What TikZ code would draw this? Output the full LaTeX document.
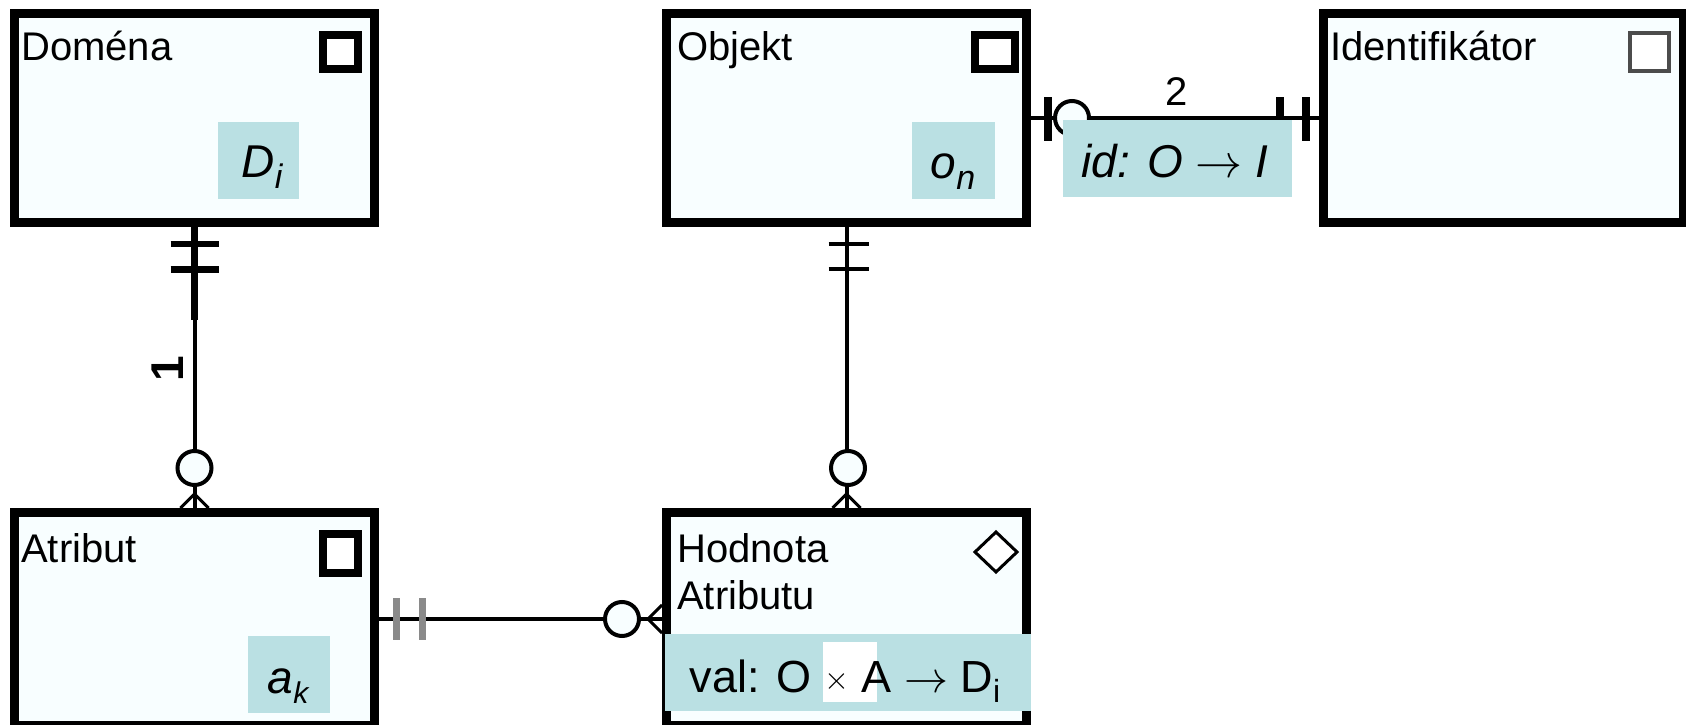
\documentclass[tikz,border=0pt]{standalone}
\usepackage{fontspec}
\setmainfont{Liberation Sans}
\usetikzlibrary{calc}
\definecolor{boxfill}{HTML}{F8FEFF}
\definecolor{tealbg}{HTML}{BAE0E3}
\definecolor{bargrey}{HTML}{8A8A8A}
\newcommand{\myarrow}[1]{{\fontsize{10}{10}\selectfont\scalebox{#1}{\(\rightarrow\)}}}
\newcommand{\mytimes}{{\fontsize{10}{10}\selectfont\raisebox{3pt}{\scalebox{3.2}{\(\times\)}}}}
\begin{document}
\begin{tikzpicture}[x=1pt,y=-1pt,
  entity/.style={draw=black, line width=9pt, fill=boxfill, minimum width=360pt, inner sep=0pt},
  upper/.style={entity, minimum height=209pt},
  lower/.style={entity, minimum height=213pt},
  lbl/.style={anchor=base west, inner sep=0pt, font=\fontsize{40}{44}\selectfont},
  icon/.style={draw=black, line width=8pt, fill=white},
  conn/.style={draw=black, line width=4pt},
  thickconn/.style={draw=black, line width=7pt},
  bar/.style={draw=black, line width=5pt},
  circ/.style={circle, draw=black, line width=4pt, fill=boxfill, minimum size=34pt, inner sep=0pt},
  foot/.style={draw=black, line width=3pt},
  tealbox/.style={fill=tealbg, inner sep=0pt},
  mathtxt/.style={inner sep=0pt, anchor=base, font=\fontsize{46}{50}\selectfont},
  card/.style={inner sep=0pt, font=\fontsize{40}{44}\selectfont}
]
\useasboundingbox (0,0) rectangle (1686,725);

% entities
\node[upper] (dom) at (194.5,118) {};
\node[upper] (obj) at (846.5,118) {};
\node[upper] (ide) at (1503.5,118) {};
\node[lower] (atr) at (194.5,619) {};
\node[lower] (hod) at (846.5,619) {};

% labels
\node[lbl] (domlbl) at (21,61) {Doména};
\node[lbl] (objlbl) at (677,61) {Objekt};
\node[lbl] (idelbl) at (1330,61) {Identifikátor};
\node[lbl] (atrlbl) at (21,562) {Atribut};
\node[lbl] (hodlbl1) at (677,562) {Hodnota};
\node[lbl] (hodlbl2) at (677,609) {Atributu};

% icons
\draw[icon] (323,35) rectangle (358,69);
\draw[icon] (975,35) rectangle (1015,69);
\draw[icon] (323,534) rectangle (358,573);
\draw[draw=black!70, line width=4pt, fill=white] (1630,33) rectangle (1669,71);
\draw[draw=black, line width=3pt, fill=white] (975,552) -- (996,532) -- (1017,552) -- (996,572) -- cycle;

% Domena -- Atribut
\coordinate (dmid) at ($(dom.south)+(0,93)$);
\coordinate (dcirc) at ($(atr.north)+(0,-40)$);
\draw[thickconn] (dom.south) -- (dmid);
\draw[conn] (dmid) -- (dcirc);
\draw[conn] (dcirc) -- (atr.north);
\draw[bar, line width=6pt] ($(dom.south)+(-24,17)$) -- ($(dom.south)+(24,17)$);
\draw[bar, line width=7pt] ($(dom.south)+(-24,42)$) -- ($(dom.south)+(24,42)$);
\node[circ] (dc) at (dcirc) {};
\draw[foot] ($(atr.north)+(0,-14)$) -- ($(atr.north)+(-14,0)$)
            ($(atr.north)+(0,-14)$) -- ($(atr.north)+(14,0)$);
\node[card, font=\bfseries\fontsize{46}{50}\selectfont, rotate=90] (one) at (168,369) {1};

% Objekt -- Hodnota
\coordinate (ocirc) at ($(hod.north)+(1.5,-40)$);
\draw[conn] (obj.south) -- (hod.north);
\draw[bar, line width=4pt] ($(obj.south)+(-18,17)$) -- ($(obj.south)+(22,17)$);
\draw[bar, line width=4pt] ($(obj.south)+(-18,42)$) -- ($(obj.south)+(22,42)$);
\node[circ] (oc) at (ocirc) {};
\draw[foot] ($(hod.north)+(0,-14)$) -- ($(hod.north)+(-14,0)$)
            ($(hod.north)+(0,-14)$) -- ($(hod.north)+(14,0)$);

% Objekt -- Identifikator
\draw[conn] (obj.east) -- (ide.west);
\draw[bar, line width=8pt] ($(obj.east)+(17,-21)$) -- ($(obj.east)+(17,23)$);
\node[circ] (ic) at ($(obj.east)+(41,0)$) {};
\draw[bar, line width=8pt] ($(ide.west)+(-39,-21)$) -- ($(ide.west)+(-39,23)$);
\draw[bar, line width=8pt] ($(ide.west)+(-13,-21)$) -- ($(ide.west)+(-13,23)$);
\node[card] (two) at (1177,92) {2};
\node[tealbox, minimum width=229pt, minimum height=77pt] (idbox) at (1177.5,158.5) {};
\node[mathtxt, font=\itshape\fontsize{46}{50}\selectfont] (idtxt) at (1175,177) {id: O \myarrow{4.7} I};

% Atribut -- Hodnota
\draw[conn] (atr.east) -- (hod.west);
\draw[bar, draw=bargrey, line width=7pt] ($(atr.east)+(17,-21)$) -- ($(atr.east)+(17,21)$);
\draw[bar, draw=bargrey, line width=7pt] ($(atr.east)+(43,-21)$) -- ($(atr.east)+(43,21)$);
\node[circ] (hc) at ($(hod.west)+(-40,0)$) {};
\draw[foot] ($(hod.west)+(-14,0)$) -- ($(hod.west)+(0,-14)$)
            ($(hod.west)+(-14,0)$) -- ($(hod.west)+(0,14)$);

% teal value boxes
\node[tealbox, minimum width=81pt, minimum height=77pt] (dibox) at (258.5,160.5) {};
\node[mathtxt, font=\itshape\fontsize{46}{50}\selectfont] (ditxt) at (262,177) {D\raisebox{-11pt}{\fontsize{34}{34}\selectfont i}};
\node[tealbox, minimum width=83pt, minimum height=77pt] (onbox) at (953.5,160.5) {};
\node[mathtxt, font=\itshape\fontsize{46}{50}\selectfont] (ontxt) at (953,178) {o\raisebox{-11pt}{\fontsize{34}{34}\selectfont n}};
\node[tealbox, minimum width=82pt, minimum height=77pt] (akbox) at (289,674.5) {};
\node[mathtxt, font=\itshape\fontsize{46}{50}\selectfont] (aktxt) at (288,693) {a\raisebox{-10pt}{\fontsize{30}{30}\selectfont k}};
\node[tealbox, minimum width=366pt, minimum height=77pt] (valbox) at (848,672.5) {};
\fill[white] (823,642) rectangle (877,702);
\node[mathtxt, font=\fontsize{45}{50}\selectfont] (valtxt) at (845,692) {val: O \mytimes\ A \myarrow{4.4} D\raisebox{-10pt}{\fontsize{32}{32}\selectfont i}};
\end{tikzpicture}
\end{document}
